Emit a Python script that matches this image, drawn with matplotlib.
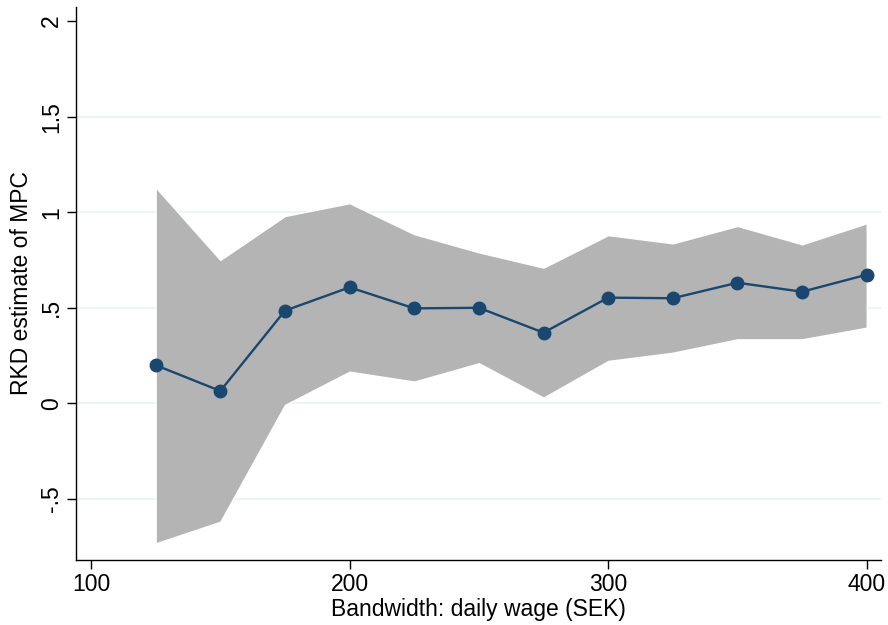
import matplotlib
matplotlib.use("Agg")
import matplotlib.pyplot as plt

plt.rcParams['font.family'] = ['Liberation Sans', 'DejaVu Sans']

# RKD estimates of the MPC by bandwidth, with confidence band
bandwidth = [125, 150, 175, 200, 225, 250, 275, 300, 325, 350, 375, 400]
estimate = [0.20, 0.065, 0.485, 0.607, 0.497, 0.50, 0.37, 0.553, 0.55, 0.631, 0.584, 0.673]
ci_upper = [1.13, 0.75, 0.98, 1.047, 0.885, 0.79, 0.71, 0.88, 0.837, 0.928, 0.832, 0.942]
ci_lower = [-0.732, -0.619, -0.008, 0.166, 0.114, 0.21, 0.03, 0.222, 0.265, 0.335, 0.335, 0.396]

xticks = [100, 200, 300, 400]
yticks = [-0.5, 0, 0.5, 1, 1.5, 2]
yticklabels = ["-.5", "0", ".5", "1", "1.5", "2"]

fig = plt.figure(figsize=(8.88, 6.25), dpi=100)
ax = fig.add_axes([0.0856, 0.104, 0.9065, 0.8848])

for y in yticks[:-1]:
    ax.axhline(y, color="#eaf2f3", lw=1.2, zorder=0)

ax.fill_between(bandwidth, ci_lower, ci_upper, facecolor="#b4b4b4",
                edgecolor="white", lw=1.0, zorder=1)
ax.plot(bandwidth, estimate, color="#1a476f", lw=1.7, marker="o",
        markersize=9, markerfacecolor="#1a476f", markeredgecolor="#1a476f",
        zorder=3)

ax.set_xlim(94.2, 405.5)
ax.set_ylim(-0.819, 2.073)
ax.set_xticks(xticks)
ax.set_xticklabels([str(v) for v in xticks])
ax.set_yticks(yticks)
ax.set_yticklabels(yticklabels, rotation=90, va="center")

ax.spines["top"].set_visible(False)
ax.spines["right"].set_visible(False)
for s in ("left", "bottom"):
    ax.spines[s].set_linewidth(1.0)
ax.tick_params(axis="both", length=6.5, width=1.0, labelsize=16.5, pad=3)

ax.set_xlabel("Bandwidth: daily wage (SEK)", fontsize=16.5, labelpad=1)
ax.set_ylabel("RKD estimate of MPC", fontsize=16.5, labelpad=5)

fig.savefig("out.png", dpi=100)
